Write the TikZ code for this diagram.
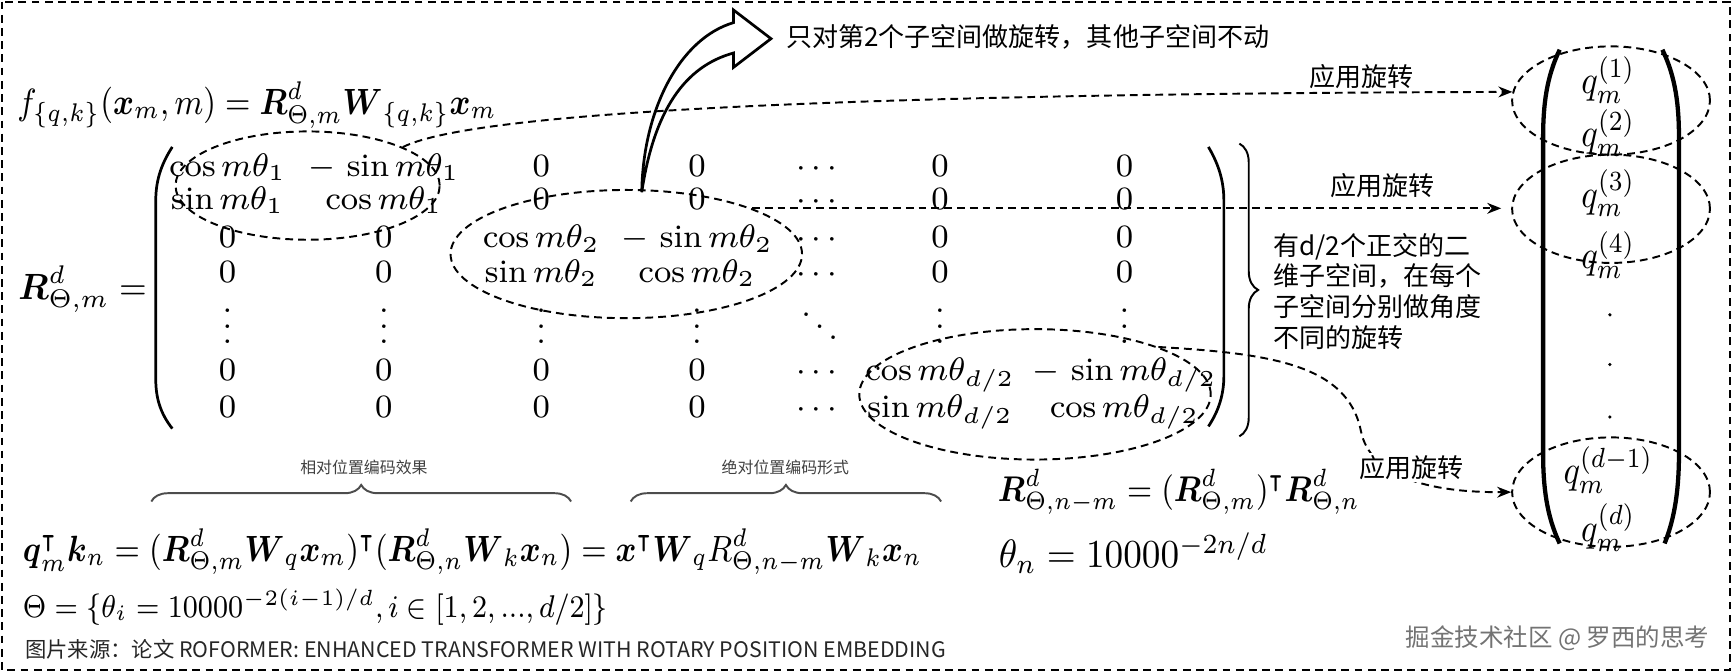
\RequirePackage{fix-cm}
\documentclass[tikz,border=0pt]{standalone}
\usepackage{amsmath}
\usepackage{amssymb}
\usepackage{graphicx}
\usepackage{fontspec}
\newfontfamily\cjk{Noto Sans CJK SC}
\usepackage{tikz}
\usetikzlibrary{arrows.meta,decorations.pathreplacing,shapes.geometric}
\newcommand{\hf}{d/2}
\newcommand{\narrow}[2]{\scalebox{#1}[1]{#2}}

\begin{document}
\begin{tikzpicture}[x=0.01cm, y=-0.01cm,
  dashframe/.style={draw, line width=0.5pt, dash pattern=on 2pt off 1.4pt},
  ring/.style={ellipse, draw, inner sep=0pt, line width=0.5pt, dash pattern=on 2pt off 1.3pt},
  link/.style={line width=0.5pt, dash pattern=on 2pt off 1.3pt, -{Stealth[length=3.6pt,width=2.8pt]}},
  paren/.style={line width=0.7pt},
  curly/.style={decorate, decoration={brace, amplitude=#1}, line width=0.5pt},
  cell/.style={font=\fontsize{8.4}{10}\selectfont, inner sep=0pt, anchor=base},
  eqn/.style={font=\fontsize{9.4}{11}\selectfont, inner sep=0pt, anchor=base west},
  note/.style={font=\cjk\fontsize{6.7}{7.9}\selectfont, inner sep=0.6pt},
  tag/.style={font=\cjk\fontsize{4.1}{5}\selectfont, text=black!75, inner sep=0pt},
]
\useasboundingbox (0,0) rectangle (1568,608);
% ---------- outer frame ----------
\draw[dashframe] (2,1.5) rectangle (1566,606.5);

% ---------- definition and rotation matrix ----------
\node[eqn] (feq) at (15,104) {\narrow{0.87}{$f_{\{q,k\}}(\boldsymbol{x}_m,m)=\boldsymbol{R}^d_{\Theta,m}\boldsymbol{W}_{\{q,k\}}\boldsymbol{x}_m$}};
\node[eqn, anchor=west] (rlab) at (16,262) {\narrow{0.95}{$\boldsymbol{R}^d_{\Theta,m}=$}};
\draw[paren] (156,133) .. controls (145,150) and (141,165) .. (141,182) -- (141,343) .. controls (141,360) and (145,374) .. (156,388);
\draw[paren] (1094,133) .. controls (1104,150) and (1108,165) .. (1108,182) -- (1108,340) .. controls (1108,356) and (1104,371) .. (1094,386);
% one row per line: row, baseline, then the 7 columns
\foreach \r/\y/\ca/\cb/\cc/\cd/\ce/\cf/\cg in {%
  1/159.5/{\cos m\theta_1}/{-\,\sin m\theta_1}/0/0/\cdots/0/0,
  2/190/{\sin m\theta_1}/{\cos m\theta_1}/0/0/\cdots/0/0,
  3/224.5/0/0/{\cos m\theta_2}/{-\,\sin m\theta_2}/\cdots/0/0,
  4/255.5/0/0/{\sin m\theta_2}/{\cos m\theta_2}/\cdots/0/0,
  5/311/\vdots/\vdots/\vdots/\vdots/\ddots/\vdots/\vdots,
  6/344.5/0/0/0/0/\cdots/{\cos m\theta_{\hf}}/{-\,\sin m\theta_{\hf}},
  7/378/0/0/0/0/\cdots/{\sin m\theta_{\hf}}/{\cos m\theta_{\hf}}%
} {
  \node[cell] (m\r-1) at (206,\y) {$\ca$};
  \node[cell] (m\r-2) at (347.5,\y) {$\cb$};
  \node[cell] (m\r-3) at (490,\y) {$\cc$};
  \node[cell] (m\r-4) at (631,\y) {$\cd$};
  \node[cell] (m\r-5) at (742,\y) {$\ce$};
  \node[cell] (m\r-6) at (851,\y) {$\cf$};
  \node[cell] (m\r-7) at (1018,\y) {$\cg$};
}
% the 2x2 rotation blocks
\node[ring, minimum width=2.39cm, minimum height=0.98cm] (blk1) at (278.5,168) {};
\node[ring, minimum width=3.18cm, minimum height=1.16cm] (blk2) at (567,230) {};
\node[ring, minimum width=3.18cm, minimum height=1.18cm] (blk3) at (937,357) {};

% ---------- brace and note ----------
\draw[curly=0.17cm] (1122,130) -- (1122,395);
\node[note, anchor=west, align=left] (sub) at (1150,263.5) {有d/2个正交的二\\维子空间，在每个\\子空间分别做角度\\不同的旋转};

% ---------- block arrow ----------
\draw[line width=0.7pt] (581,174) .. controls (582,100) and (615,35) .. (664,20.5) -- (664,9) -- (698,35) -- (664,61) -- (664,48) .. controls (620,60) and (592,100) .. (581,174) -- cycle;
\node[note, anchor=west] (only2) at (709,33) {只对第2个子空间做旋转，其他子空间不动};

% ---------- q vector ----------
\draw[line width=1.1pt] (1412,45) .. controls (1400,70) and (1397,95) .. (1397,125) -- (1397,410) .. controls (1397,440) and (1400,467) .. (1412,492);
\draw[line width=1.1pt] (1505,45) .. controls (1517,70) and (1520,95) .. (1520,125) -- (1520,410) .. controls (1520,440) and (1517,467) .. (1507,492);
\foreach \n/\y/\s in {1/85/(1), 2/133/(2), 3/187.5/(3), 4/243.5/(4), 5/438/(d-1), 6/490/(d)} {
  \node[cell, font=\fontsize{10.2}{12}\selectfont] (q\n) at (1456,\y) {\narrow{0.87}{$q_m^{\raisebox{0.5pt}{$\scriptstyle\s$}}$}};
}
\foreach \y in {285,330,377.5} {
  \fill (1457.5,\y) circle (1.6);
}
\node[ring, minimum width=1.79cm, minimum height=0.98cm] (rq1) at (1458.5,91) {};
\node[ring, minimum width=1.79cm, minimum height=0.98cm] (rq2) at (1458.5,189) {};
\node[ring, minimum width=1.79cm, minimum height=0.99cm] (rq3) at (1458.5,445.5) {};

% ---------- apply rotation ----------
\draw[link] (blk1.22) .. controls (420,105) and (700,85) .. (rq1.175);
\draw[link, shorten >=0.9mm] (blk2.20) -- (blk2.20 -| rq2.west);
\draw[link] (blk3.21) .. controls (1150,320) and (1220,330) .. (1232,390) .. controls (1240,430) and (1290,446) .. (rq3.west);
\node[note] (rot1) at (1233,69) {应用旋转};
\node[note] (rot2) at (1252,168) {应用旋转};
\node[note, fill=white] (rot3) at (1278,423) {应用旋转};

% ---------- attention score ----------
\draw[curly=0.15cm, draw=black!70] (137,454) -- (517,454);
\node[tag] (rel) at (329.5,423) {相对位置编码效果};
\draw[curly=0.15cm, draw=black!70] (571,454) -- (852,454);
\node[tag] (abs) at (711,423) {绝对位置编码形式};
\node[eqn] (qk) at (20,508.6) {\narrow{0.868}{$\boldsymbol{q}_m^{\intercal}\boldsymbol{k}_n=(\boldsymbol{R}^d_{\Theta,m}\boldsymbol{W}_q\boldsymbol{x}_m)^{\intercal}(\boldsymbol{R}^d_{\Theta,n}\boldsymbol{W}_k\boldsymbol{x}_n)=\boldsymbol{x}^{\intercal}\boldsymbol{W}_qR^d_{\Theta,n-m}\boldsymbol{W}_k\boldsymbol{x}_n$}};
\node[eqn, font=\fontsize{8.1}{10}\selectfont] (thetaset) at (20,558.6) {\narrow{0.9}{$\Theta=\{\theta_i=10000^{-2(i-1)/d},i\in[1,2,...,d/2]\}$}};
\node[eqn, font=\fontsize{9.2}{11}\selectfont] (rdiff) at (902.6,454) {\narrow{0.88}{$\boldsymbol{R}^d_{\Theta,n-m}=(\boldsymbol{R}^d_{\Theta,m})^{\intercal}\boldsymbol{R}^d_{\Theta,n}$}};
\node[eqn, font=\fontsize{10.2}{12}\selectfont] (thetan) at (903.5,514) {\narrow{0.94}{$\theta_n=10000^{-2n/d}$}};

% ---------- source and mark ----------
\node[font=\cjk\fontsize{5.5}{6.5}\selectfont, anchor=west, inner sep=0pt, text=black!85] (src) at (22,587.7) {图片来源：论文 ROFORMER: ENHANCED TRANSFORMER WITH ROTARY POSITION EMBEDDING};
\node[font=\cjk\fontsize{6.3}{7.5}\selectfont, text=black!55, anchor=east, inner sep=0pt] (mark) at (1548,578) {掘金技术社区 @ 罗西的思考};
\end{tikzpicture}
\end{document}
